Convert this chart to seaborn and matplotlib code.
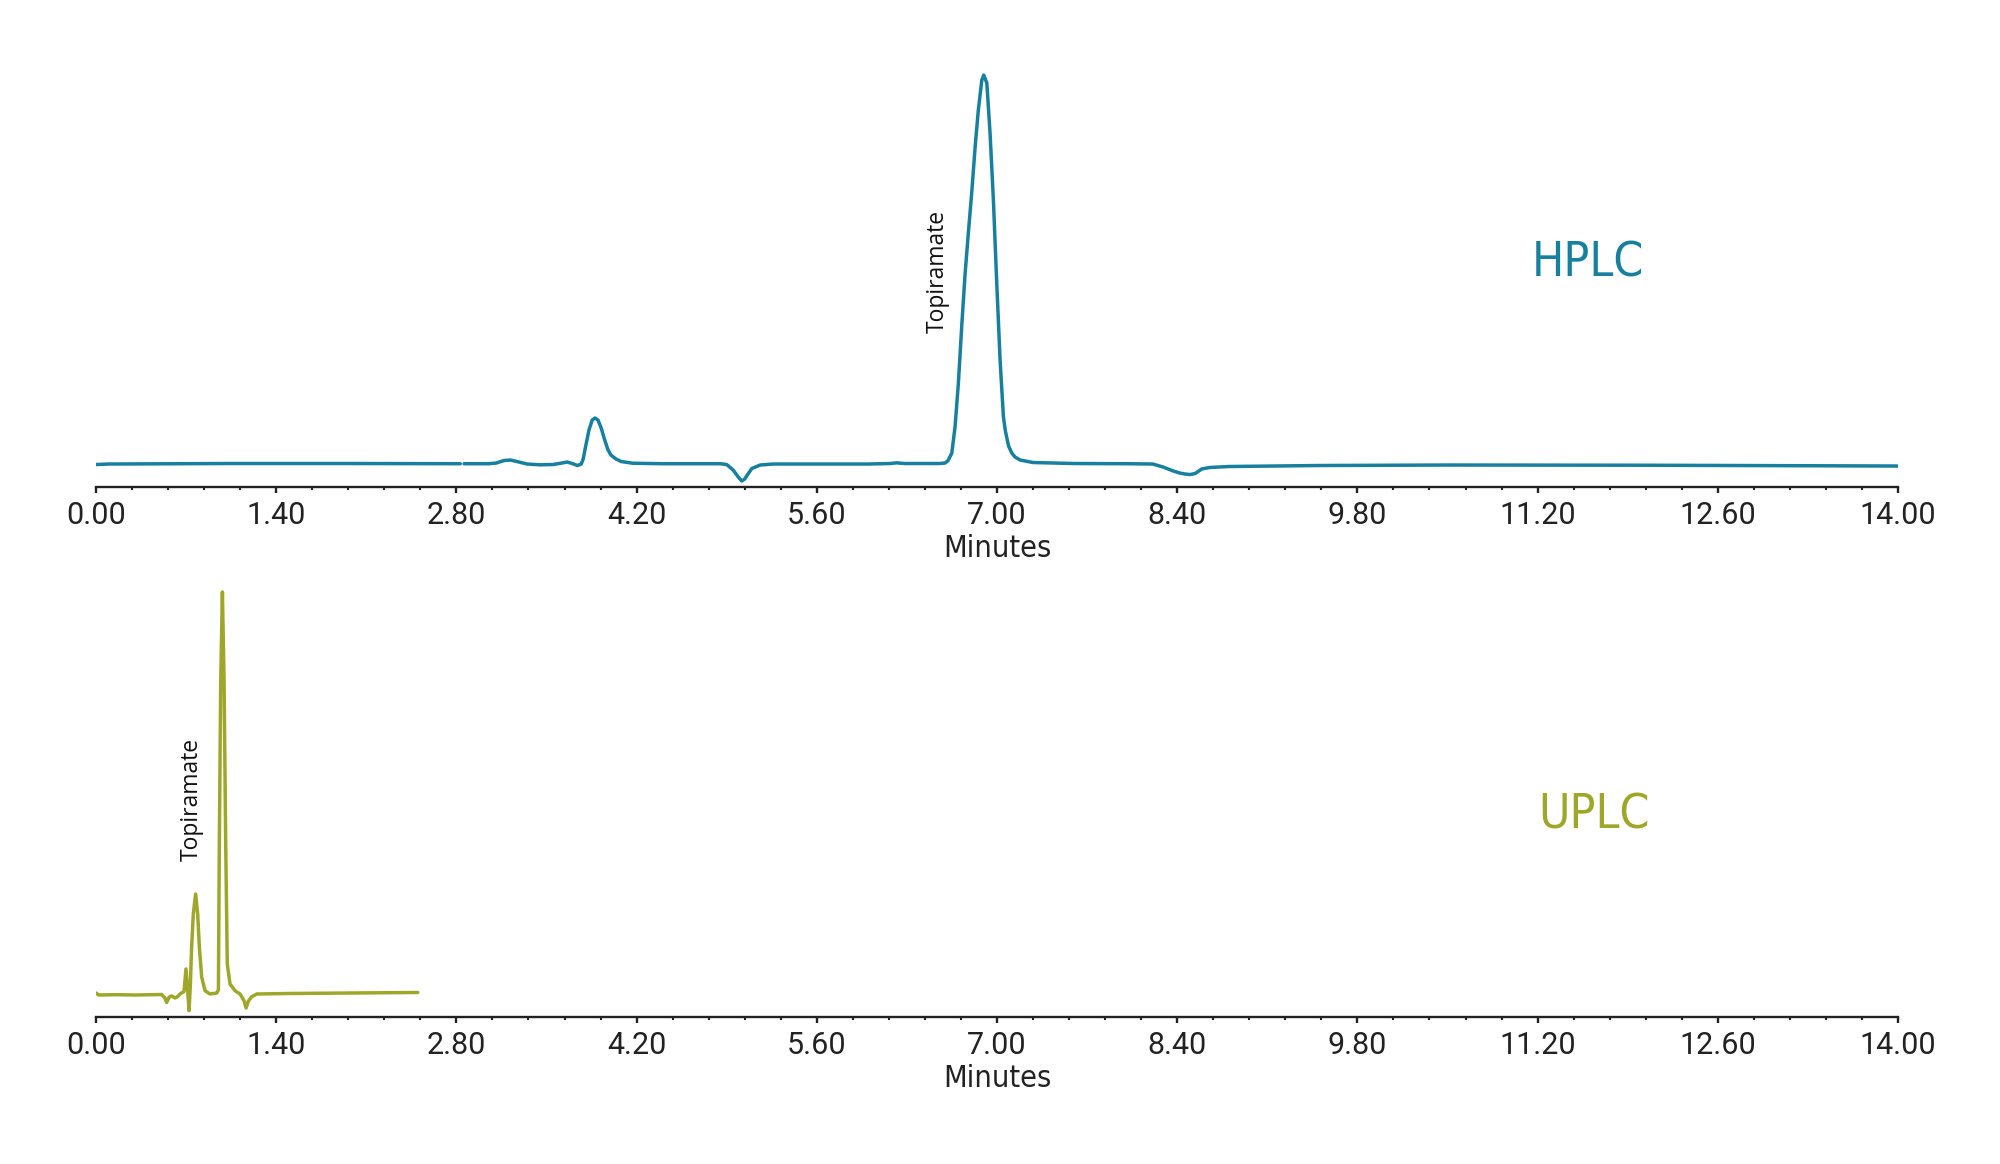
import pandas as pd
import seaborn as sns
import matplotlib
matplotlib.use("Agg")
import matplotlib.pyplot as plt
from matplotlib import font_manager
from matplotlib.font_manager import FontProperties
from matplotlib.ticker import FixedLocator, MultipleLocator


# HPLC trace (minutes, response above baseline).
# the recorded line has a tiny break just before 2.85 min, so it comes in two parts
hplc_time_a = [0.00, 0.10, 1.00, 2.00, 2.83]
hplc_signal_a = [-0.5, 0.0, 0.5, 0.5, 0.3]
hplc_time_b = [2.86, 3.05, 3.11, 3.17, 3.22, 3.27, 3.35, 3.45, 3.55, 3.62, 3.66,
               3.70, 3.74, 3.77, 3.785, 3.80, 3.83, 3.855, 3.877, 3.90, 3.925,
               3.95, 3.975, 4.00, 4.04, 4.08, 4.17, 4.40, 4.85, 4.90, 4.95,
               4.99, 5.017, 5.04, 5.06, 5.095, 5.16, 5.26, 6.00, 6.17, 6.22,
               6.28, 6.55, 6.597, 6.62, 6.649, 6.674, 6.700, 6.727, 6.752,
               6.778, 6.804, 6.830, 6.855, 6.882, 6.897, 6.921, 6.946, 6.972,
               6.998, 7.024, 7.050, 7.065, 7.09, 7.115, 7.14, 7.18, 7.28, 7.60,
               8.00, 8.21, 8.29, 8.37, 8.42, 8.46, 8.50, 8.54, 8.59, 8.65, 8.80,
               9.50, 10.50, 12.00, 14.00]
hplc_signal_b = [0.3, 0.3, 1.0, 3.5, 4.0, 2.5, 0.0, -0.8, -0.5, 1.0, 2.0,
                 0.5, -1.5, 0.0, 5, 15, 34, 44, 46, 44, 36,
                 25, 15, 9, 5, 2.5, 0.8, 0.3, 0.3, -0.5, -6,
                 -13, -17, -15, -11, -4.5, -1.0, 0.0, 0.0, 0.5, 1.2,
                 0.5, 0.5, 1, 3.5, 11, 37, 81, 140, 190,
                 232, 272, 317, 354, 384, 389, 381, 331, 264,
                 181, 104, 47, 33, 18, 11, 7, 4, 1.5, 0.5,
                 0.3, 0.0, -3, -7, -9, -10, -10.5, -9.5, -5, -3.5, -2.5,
                 -1.5, -1.0, -1.2, -2.0]

# UPLC trace (run stops at 2.5 min)
uplc_time = [0.00, 0.02, 0.15, 0.30, 0.45, 0.51, 0.535, 0.549, 0.565, 0.575,
             0.59, 0.614, 0.635, 0.653, 0.684, 0.699, 0.712, 0.723, 0.733,
             0.743, 0.756, 0.774, 0.790, 0.803, 0.821, 0.847, 0.886, 0.938,
             0.951, 0.958, 0.969, 0.982, 0.995, 1.008, 1.020, 1.041, 1.080,
             1.119, 1.150, 1.166, 1.183, 1.21, 1.249, 1.50, 2.00, 2.50]
uplc_signal = [2.0, 0.0, 0.3, 0.0, 0.3, 0.5, -3, -7.5, -3, -1.5,
               -1, -3, -1.5, 1, 3.5, 26, 5, -15.7, 10,
               48, 81, 101, 81, 48, 18, 4.3, 1, 2,
               5, 148, 314, 403, 314, 148, 31, 11, 4.3,
               1, -5.7, -13, -6.3, -1.7, 1, 1.5, 2, 2.5]

tick_labels = ["0.00", "1.40", "2.80", "4.20", "5.60", "7.00", "8.40",
               "9.80", "11.20", "12.60", "14.00"]

hplc_color = "#17809e"
uplc_color = "#9fa72b"


def narrow_font(size):
    # look for any narrow / condensed sans face on the machine
    for f in font_manager.fontManager.ttflist:
        fn = f.fname.lower()
        if ("narrow" in fn or "condensed" in fn) and "sans" in fn \
                and "bold" not in fn and "italic" not in fn and "oblique" not in fn:
            return FontProperties(fname=f.fname, size=size)
    return FontProperties(family="DejaVu Sans", size=size * 0.85)


def has_font(name):
    try:
        font_manager.findfont(name, fallback_to_default=False)
        return True
    except ValueError:
        return False


tick_font = "Roboto" if has_font("Roboto") else "DejaVu Sans"
peak_font = "Open Sans" if has_font("Open Sans") else "DejaVu Sans"

sns.set_style("white")
plt.rcParams["font.family"] = [tick_font, "DejaVu Sans"]

hplc = pd.concat([
    pd.DataFrame({"time": hplc_time_a, "signal": hplc_signal_a, "part": 0}),
    pd.DataFrame({"time": hplc_time_b, "signal": hplc_signal_b, "part": 1}),
])
uplc = pd.DataFrame({"time": uplc_time, "signal": uplc_signal, "part": 0})

fig = plt.figure(figsize=(20, 11.64), dpi=100)
ax_h = fig.add_axes([0.048, 0.5816, 0.901, 0.3668])
ax_u = fig.add_axes([0.048, 0.1263, 0.901, 0.3797])

panels = [
    (ax_h, hplc, hplc_color, (-23, 404), "HPLC", (11.59, 188), (6.54, 193)),
    (ax_u, uplc, uplc_color, (-22, 420), "UPLC", (11.64, 166), (0.744, 196)),
]

ticks = [float(t) for t in tick_labels]

for ax, df, color, ylim, name, name_pos, peak_pos in panels:
    sns.lineplot(data=df, x="time", y="signal", units="part", estimator=None,
                 sort=False, color=color, linewidth=2.5, ax=ax)
    ax.set_xlim(0, 14)
    ax.set_ylim(*ylim)
    ax.set_yticks([])
    ax.set_ylabel("")
    for side in ["left", "right", "top"]:
        ax.spines[side].set_visible(False)
    ax.spines["bottom"].set_linewidth(1.7)
    ax.spines["bottom"].set_color("#222222")

    ax.xaxis.set_major_locator(FixedLocator(ticks))
    ax.set_xticklabels(tick_labels)
    ax.xaxis.set_minor_locator(MultipleLocator(0.28))
    ax.tick_params(axis="x", which="major", direction="out", length=4.5,
                   width=1.7, color="#222222", pad=5.5, labelsize=22,
                   labelcolor="#222222", bottom=True)
    ax.tick_params(axis="x", which="minor", direction="out", length=2.5,
                   width=1.5, color="#222222", bottom=True)
    ax.set_xlabel("Minutes", fontproperties=narrow_font(22),
                  color="#222222", labelpad=3.3)

    ax.text(name_pos[0], name_pos[1], name, color=color,
            fontproperties=narrow_font(34.5), ha="center", va="baseline")
    ax.text(peak_pos[0], peak_pos[1], "Topiramate", rotation=90, fontsize=16.5,
            family=[peak_font, "DejaVu Sans"], color="#111111",
            ha="center", va="center")

fig.savefig("out.png", dpi=100, facecolor="white")
